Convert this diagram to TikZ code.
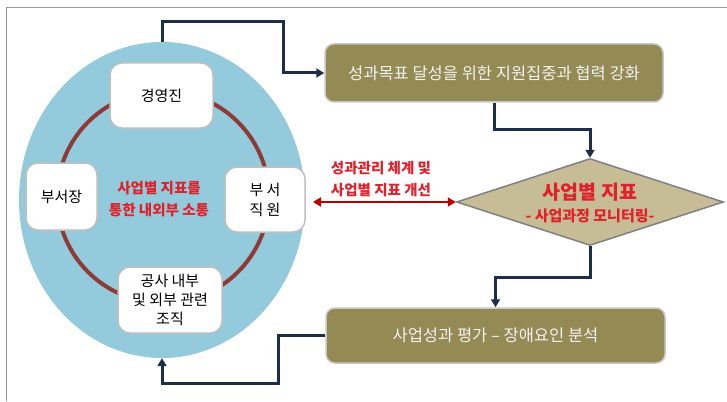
\documentclass[tikz,border=0pt]{standalone}
\usepackage{fontspec}
\setmainfont{Noto Sans CJK KR}
\usetikzlibrary{arrows.meta,shapes.geometric}
\definecolor{navy}{HTML}{1C2E4A}
\definecolor{olive}{HTML}{948A54}
\definecolor{tan}{HTML}{C6BD97}
\definecolor{skyb}{HTML}{93CBDC}
\definecolor{ringred}{HTML}{8E3A36}
\definecolor{txtred}{HTML}{E0202A}
\definecolor{arrred}{HTML}{C00000}
\tikzset{
  wbox/.style={draw=black!25,line width=1.5pt,fill=white,rounded corners=12pt,align=center,font=\fontsize{15}{20}\selectfont,inner sep=0pt},
  obox/.style={draw=black!22,line width=1.5pt,fill=olive,rounded corners=9pt,align=center,text=white!95!black,font=\fontsize{16.5}{19}\selectfont,inner sep=0pt},
  flow/.style={draw=navy,line width=3pt,-{Triangle[length=8pt,width=9pt]}},
  redtxt/.style={text=txtred,font=\bfseries\fontsize{14.5}{22}\selectfont,align=center}
}
\begin{document}
\begin{tikzpicture}[x=1pt,y=-1pt]
\useasboundingbox (0,0) rectangle (727,401);
\draw[black!40,line width=1pt] (6,401) -- (6,8) -- (727,8);
% ellipse and ring
\node[ellipse,fill=skyb,minimum width=286pt,minimum height=316pt,inner sep=0pt] (ell) at (162,200) {};
\draw[ringred,line width=4pt] (163,197) circle[radius=106pt];
\node[redtxt] (center) at (159,199) {사업별 지표를\\통한 내외부 소통};
% white boxes
\node[wbox,minimum width=103pt,minimum height=65pt] (exec) at (161.5,95.5) {경영진};
\node[wbox,minimum width=71pt,minimum height=67pt] (head) at (61.5,196.5) {부서장};
\node[wbox,minimum width=80pt,minimum height=65pt] (staff) at (265,199.5) {부 서\\직 원};
\node[wbox,minimum width=104pt,minimum height=66pt,font=\fontsize{15}{19}\selectfont] (org) at (170,300) {공사 내부\\및 외부 관련\\조직};
% olive boxes
\node[obox,minimum width=338pt,minimum height=58pt] (top) at (494,73) {성과목표 달성을 위한 지원집중과 협력 강화};
\node[obox,minimum width=339pt,minimum height=55pt] (bot) at (495.5,335.5) {사업성과 평가 – 장애요인 분석};
% diamond
\node[diamond,draw=black!50,line width=1.5pt,fill=tan,minimum width=267pt,minimum height=87pt,inner sep=0pt,aspect=3.07] (dia) at (590,202) {};
\node[text=txtred,font=\bfseries\fontsize{19.5}{21}\selectfont] (diat) at (590,192) {사업별 지표};
\node[text=txtred,font=\bfseries\fontsize{15}{17}\selectfont] (dias) at (590,216) {- 사업과정 모니터링-};
% red label and arrow
\node[redtxt] (lbl) at (381,179) {성과관리 체계 및\\사업별 지표 개선};
\coordinate (r1) at (313,202);
\draw[arrred,line width=2.5pt,{Triangle[length=8pt,width=9pt]}-{Triangle[length=8pt,width=9pt]}] (r1) -- (dia.west);
% flow connectors
\coordinate (c1) at (283,22);
\draw[flow] (ell.north) |- (c1) |- (top.west);
\coordinate (c2) at (590,129);
\draw[flow] (top.south) |- (c2) -- (dia.north);
\coordinate (c3) at (495.5,277);
\draw[flow] (dia.south) |- (c3) -- (bot.north);
\coordinate (c4) at (278,383);
\draw[flow] (bot.west) -| (c4) -| (ell.south);
\end{tikzpicture}
\end{document}
